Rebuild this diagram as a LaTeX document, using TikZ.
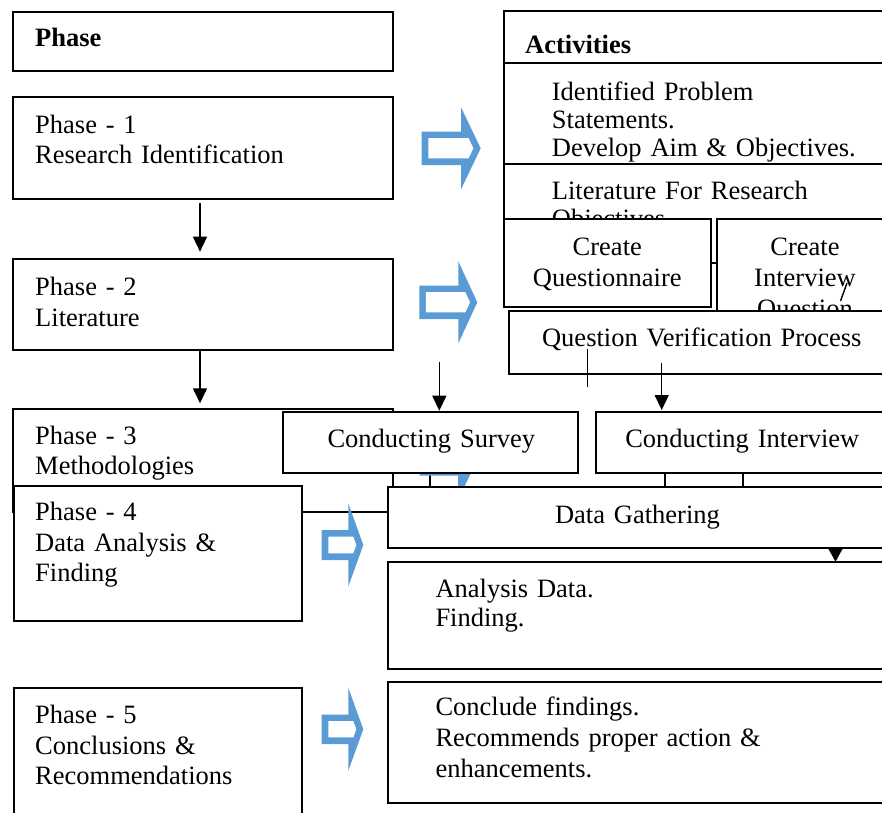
\documentclass[tikz,border=0pt]{standalone}
\usepackage{fontspec}
\setmainfont{Liberation Serif}
\usetikzlibrary{arrows.meta}
\definecolor{arrowblue}{RGB}{91,155,213}
\newcommand\fsz[1]{\fontsize{26.5}{#1}\selectfont}
\newcommand\BlueArr[6]{%
  \pgfmathsetmacro\baT{6.6}%
  \pgfmathsetmacro\baD{\baT*sqrt(#6*#6+#5*#5)/#6}%
  \pgfmathsetmacro\baI{\baD+(#4-\baT)*#5/#6}%
  \begin{scope}[shift={(#1,#2)}]
    \fill[arrowblue] (-#3,-#4) -- (-#5,-#4) -- (-#5,-#6) -- (0,0) -- (-#5,#6) -- (-#5,#4) -- (-#3,#4) -- cycle;
    \fill[white] (-#3+\baT,-#4+\baT) -- (-\baI,-#4+\baT) -- (-\baD,0) -- (-\baI,#4-\baT) -- (-#3+\baT,#4-\baT) -- cycle;
  \end{scope}}
\tikzset{
  box/.style={draw, line width=1.7pt, fill=white, rectangle, inner sep=0pt, outer sep=0pt, anchor=north west},
  txt/.style={anchor=base west, inner sep=0pt, text width=360pt, align=left},
  ctxt/.style={anchor=base, inner sep=0pt, text width=480pt, align=center},
  arr/.style={-{Triangle[length=15pt,width=14pt]}, line width=1.4pt},
  thin line/.style={line width=1.4pt}
}
\begin{document}
\begin{tikzpicture}[x=1pt,y=-1pt]
\useasboundingbox (0,0) rectangle (882,812);
\clip (0,0) rectangle (882,812);
\fill[white] (0,0) rectangle (882,812);

% ---- Activities table (behind)
\node[box, minimum width=400pt, minimum height=252.3pt] (tab) at (504,11) {};
\draw[line width=1.7pt] (504,63.3) -- (904,63.3);
\draw[line width=1.7pt] (504,164.3) -- (904,164.3);
\node[txt, font=\fsz{30}\bfseries] (t-act) at (525,53.3) {Activities};
\node[txt, font=\fsz{28.4}] (t-r1) at (551.7,100) {Identified Problem\\Statements.\\Develop Aim \& Objectives.};
\node[txt, font=\fsz{28.5}] (t-r2) at (551.7,199.3) {Literature For Research\\Objectives};

% ---- hidden fragments
\draw[thin line] (430,473) -- (430,487);
\draw[thin line] (665,473) -- (665,487);
\draw[thin line] (743,473) -- (743,487);

% ---- Phase column
\node[box, minimum width=380pt, minimum height=59pt] (ph) at (13.3,11.7) {};
\node[txt, font=\fsz{30}\bfseries] (t-ph) at (35,46.7) {Phase};
\node[box, minimum width=380pt, minimum height=102.6pt] (p1) at (13.3,96.7) {};
\node[txt, font=\fsz{30}] (t-p1) at (35,133.3) {Phase - 1\\Research Identification};
\node[box, minimum width=380pt, minimum height=90.7pt] (p2) at (13.3,259.3) {};
\node[txt, font=\fsz{30.3}] (t-p2) at (35,295.7) {Phase - 2\\Literature};
\node[box, minimum width=380pt, minimum height=102.4pt] (p3) at (13.3,409.3) {};
\node[txt, font=\fsz{30}] (t-p3) at (35,444) {Phase - 3\\Methodologies};

\coordinate (ax) at (200,0);
\draw[arr, shorten <=3.7pt, shorten >=7.6pt] (p1.south -| ax) -- (p2.north -| ax);
\draw[arr, shorten <=0pt, shorten >=6pt] (p2.south -| ax) -- (p3.north -| ax);

% ---- blue arrows
\BlueArr{480.7}{148.3}{59}{16.7}{19.7}{41}
\BlueArr{477.3}{302.3}{58}{16.7}{19}{41}
\BlueArr{477.5}{459}{58}{16.7}{19.5}{41}

% ---- create boxes
\node[box, minimum width=206.7pt, minimum height=88.3pt] (cq) at (504,219) {};
\node[ctxt, font=\fsz{31}] (t-cq) at (607.3,255) {Create\\Questionnaire};
\node[box, minimum width=175.4pt, minimum height=120pt] (ci) at (717.3,219) {};
\node[ctxt, font=\fsz{31}] (t-ci) at (805,255) {Create\\Interview\\Question};
\coordinate (sl-a) at (847,283);
\coordinate (sl-b) at (840.5,301);
\draw[thin line] (sl-a) -- (sl-b);
\draw[line width=1.7pt] (710.7,263.3) -- (717.3,263.3);

% ---- question verification
\node[box, minimum width=384.7pt, minimum height=63pt] (qv) at (509.3,311) {};
\node[ctxt, font=\fsz{30}] (t-qv) at (701.8,346.7) {Question Verification Process};
\coordinate (qv-a) at (587.5,349);
\coordinate (qv-b) at (587.5,387.3);
\draw[thin line] (qv-a) -- (qv-b);

% ---- conducting boxes
\node[box, minimum width=295pt, minimum height=61pt] (cs) at (283.3,412.3) {};
\node[ctxt, font=\fsz{30}] (t-cs) at (431.3,447) {Conducting Survey};
\node[box, minimum width=293.3pt, minimum height=61pt] (cn) at (595.7,412.3) {};
\node[ctxt, font=\fsz{30}] (t-cn) at (742.3,447) {Conducting Interview};
\coordinate (cs-src) at (439.3,361.7);
\coordinate (cn-src) at (661.7,363.3);
\draw[arr, shorten >=1.6pt] (cs-src) -- (cs.north -| cs-src);
\draw[arr, shorten >=2.3pt] (cn-src) -- (cn.north -| cn-src);

% ---- phase 4 and 5
\node[box, minimum width=288pt, minimum height=134.7pt] (p4) at (14.3,486) {};
\node[txt, font=\fsz{30.5}] (t-p4) at (35,520.7) {Phase - 4\\Data Analysis \&\\Finding};
\node[box, minimum width=288pt, minimum height=140pt] (p5) at (14.3,688.3) {};
\node[txt, font=\fsz{30.8}] (t-p5) at (35,723.3) {Phase - 5\\Conclusions \&\\Recommendations};

% ---- right column lower
\node[box, minimum width=498.7pt, minimum height=61.3pt] (dg) at (388.3,486.7) {};
\node[ctxt, font=\fsz{30}] (t-dg) at (637.5,523.3) {Data Gathering};
\node[box, minimum width=520pt, minimum height=107.3pt] (an) at (388.3,561.7) {};
\node[txt, font=\fsz{29.4}] (t-an) at (435.3,597.3) {Analysis Data.\\Finding.};
\node[box, minimum width=520pt, minimum height=121.6pt] (co) at (388.3,681.7) {};
\node[txt, font=\fsz{31}] (t-co) at (435.3,715) {Conclude findings.\\Recommends proper action \&\\enhancements.};
\coordinate (dx) at (835.5,0);
\draw[arr, -{Triangle[length=13pt,width=14pt]}] (dg.south -| dx) -- (an.north -| dx);

\BlueArr{363.3}{545}{41.6}{15}{15}{41.5}
\BlueArr{363.3}{729.3}{41.6}{14.7}{15}{41.5}
\end{tikzpicture}
\end{document}
